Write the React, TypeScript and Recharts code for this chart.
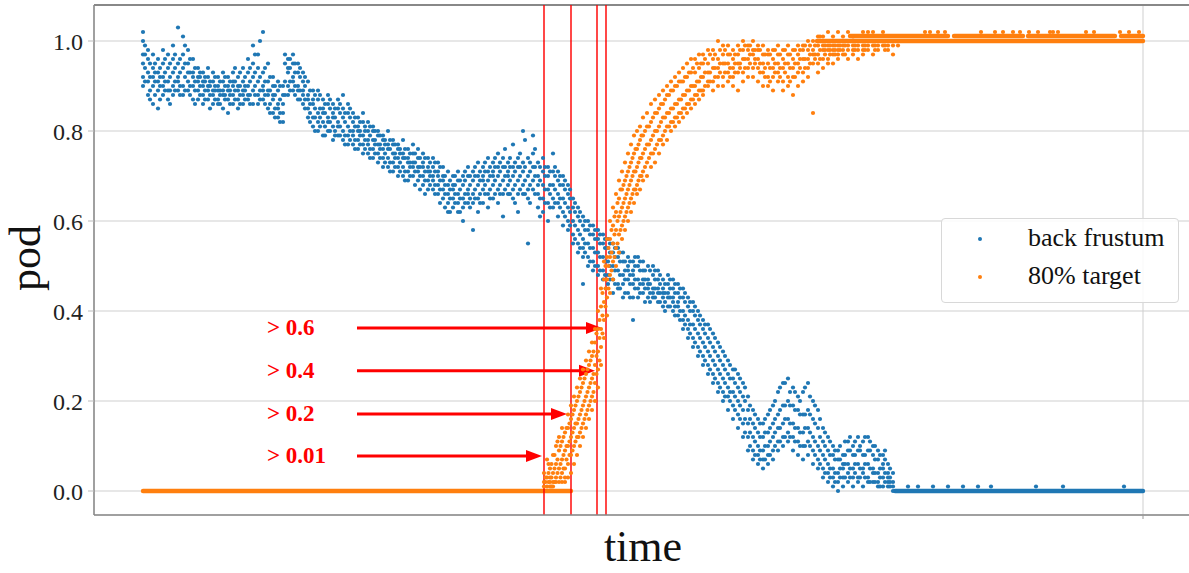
import {
  ComposedChart,
  Scatter,
  XAxis,
  YAxis,
  CartesianGrid,
  ReferenceLine,
} from "recharts";

const SERIF = '"Liberation Serif", "DejaVu Serif", serif';
const BLUE = "#1f77b4";
const ORANGE = "#ff7f0e";

// back frustum samples: [time, pod values read at that time]
const blueColumns: [number, number[]][] = [
  [0, [0.95, 1.0, 0.92, 0.97, 1.02, 0.9]],
  [5, [0.93, 0.88, 0.96, 0.91, 0.98]],
  [10, [0.9, 0.94, 0.86, 0.92, 0.97]],
  [15, [0.89, 0.93, 0.91, 0.85, 0.96]],
  [20, [0.92, 0.88, 0.95, 0.9, 0.98]],
  [25, [0.91, 0.87, 0.94, 0.89, 0.97]],
  [30, [0.93, 0.9, 0.96, 0.88, 0.99]],
  [35, [0.92, 0.95, 0.89, 0.91, 1.03]],
  [40, [0.94, 0.9, 0.97, 0.88, 1.01]],
  [45, [0.91, 0.95, 0.89, 0.93, 0.98]],
  [50, [0.9, 0.93, 0.87, 0.96, 0.92]],
  [55, [0.89, 0.92, 0.94, 0.87, 0.91]],
  [60, [0.88, 0.91, 0.93, 0.86, 0.9]],
  [65, [0.9, 0.87, 0.92, 0.89, 0.94]],
  [70, [0.89, 0.86, 0.91, 0.88, 0.93]],
  [75, [0.9, 0.87, 0.89, 0.92, 0.86]],
  [80, [0.88, 0.91, 0.85, 0.89, 0.93]],
  [85, [0.89, 0.87, 0.92, 0.9, 0.84]],
  [90, [0.9, 0.88, 0.86, 0.91, 0.93]],
  [95, [0.89, 0.87, 0.92, 0.9, 0.85]],
  [100, [0.91, 0.88, 0.94, 0.89, 0.86]],
  [105, [0.9, 0.93, 0.87, 0.96, 0.88]],
  [110, [0.89, 0.92, 0.86, 0.95, 0.99]],
  [115, [0.91, 0.88, 0.94, 0.97, 0.86]],
  [120, [0.9, 0.87, 0.93, 1.02, 0.89]],
  [125, [0.88, 0.91, 0.85, 0.95, 0.89]],
  [130, [0.87, 0.9, 0.84, 0.92, 0.88]],
  [135, [0.86, 0.83, 0.89, 0.85, 0.91]],
  [140, [0.88, 0.84, 0.82, 0.9, 0.86]],
  [145, [0.93, 0.96, 0.9, 0.94, 0.88]],
  [150, [0.92, 0.95, 0.89, 0.97, 0.91]],
  [155, [0.9, 0.93, 0.87, 0.95, 0.89]],
  [160, [0.88, 0.91, 0.86, 0.93, 0.89]],
  [165, [0.85, 0.88, 0.91, 0.83, 0.87]],
  [170, [0.86, 0.83, 0.89, 0.81, 0.87]],
  [175, [0.84, 0.87, 0.82, 0.89, 0.8]],
  [180, [0.85, 0.82, 0.87, 0.79, 0.84]],
  [185, [0.83, 0.86, 0.8, 0.88, 0.82]],
  [190, [0.84, 0.81, 0.86, 0.78, 0.83]],
  [195, [0.82, 0.85, 0.79, 0.87, 0.81]],
  [200, [0.83, 0.8, 0.85, 0.78, 0.88]],
  [205, [0.81, 0.84, 0.79, 0.77, 0.86]],
  [210, [0.82, 0.79, 0.84, 0.77, 0.8]],
  [215, [0.8, 0.83, 0.78, 0.76, 0.81]],
  [220, [0.79, 0.82, 0.77, 0.84, 0.75]],
  [225, [0.8, 0.77, 0.82, 0.75, 0.78]],
  [230, [0.78, 0.81, 0.76, 0.74, 0.8]],
  [235, [0.77, 0.8, 0.75, 0.79, 0.73]],
  [240, [0.76, 0.79, 0.74, 0.78, 0.72]],
  [245, [0.77, 0.74, 0.8, 0.72, 0.76]],
  [250, [0.75, 0.78, 0.73, 0.71, 0.77]],
  [255, [0.74, 0.77, 0.72, 0.76, 0.7]],
  [260, [0.75, 0.72, 0.78, 0.7, 0.74]],
  [265, [0.73, 0.76, 0.71, 0.74, 0.69]],
  [270, [0.72, 0.75, 0.7, 0.77, 0.73]],
  [275, [0.74, 0.71, 0.76, 0.69, 0.72]],
  [280, [0.73, 0.7, 0.75, 0.68, 0.72]],
  [285, [0.71, 0.74, 0.69, 0.72, 0.67]],
  [290, [0.72, 0.69, 0.74, 0.67, 0.7]],
  [295, [0.7, 0.73, 0.68, 0.66, 0.71]],
  [300, [0.69, 0.72, 0.67, 0.65, 0.7]],
  [305, [0.68, 0.71, 0.66, 0.64, 0.62]],
  [310, [0.67, 0.7, 0.65, 0.63, 0.68]],
  [315, [0.66, 0.69, 0.64, 0.71, 0.62]],
  [320, [0.68, 0.65, 0.7, 0.63, 0.6]],
  [325, [0.67, 0.7, 0.64, 0.72, 0.66]],
  [330, [0.69, 0.66, 0.71, 0.64, 0.58]],
  [335, [0.68, 0.65, 0.7, 0.73, 0.62]],
  [340, [0.67, 0.7, 0.64, 0.72, 0.69]],
  [345, [0.69, 0.66, 0.71, 0.74, 0.63]],
  [350, [0.68, 0.71, 0.65, 0.73, 0.7]],
  [355, [0.7, 0.67, 0.72, 0.64, 0.75]],
  [360, [0.69, 0.72, 0.66, 0.74, 0.61]],
  [365, [0.71, 0.68, 0.73, 0.66, 0.7]],
  [370, [0.7, 0.67, 0.72, 0.65, 0.77]],
  [375, [0.69, 0.72, 0.66, 0.74, 0.62]],
  [380, [0.71, 0.68, 0.73, 0.8, 0.66]],
  [385, [0.7, 0.67, 0.74, 0.65, 0.55]],
  [390, [0.72, 0.69, 0.75, 0.67, 0.79]],
  [395, [0.7, 0.66, 0.73, 0.63, 0.68]],
  [400, [0.68, 0.71, 0.65, 0.74, 0.62]],
  [405, [0.67, 0.7, 0.64, 0.72, 0.6]],
  [410, [0.68, 0.65, 0.71, 0.63, 0.75]],
  [415, [0.66, 0.69, 0.64, 0.71, 0.61]],
  [420, [0.65, 0.68, 0.62, 0.7, 0.59]],
  [425, [0.63, 0.66, 0.6, 0.68, 0.58]],
  [430, [0.6, 0.63, 0.57, 0.65, 0.55]],
  [435, [0.58, 0.61, 0.55, 0.63, 0.53]],
  [440, [0.56, 0.59, 0.54, 0.61, 0.52, 0.46]],
  [445, [0.55, 0.58, 0.52, 0.6, 0.5]],
  [450, [0.54, 0.57, 0.51, 0.59, 0.49]],
  [455, [0.53, 0.56, 0.5, 0.58, 0.48]],
  [460, [0.52, 0.55, 0.49, 0.57, 0.47]],
  [465, [0.51, 0.54, 0.48, 0.56, 0.46]],
  [470, [0.5, 0.53, 0.47, 0.55, 0.44]],
  [475, [0.49, 0.52, 0.46, 0.54, 0.45]],
  [480, [0.48, 0.51, 0.46, 0.53, 0.43]],
  [485, [0.49, 0.47, 0.52, 0.44, 0.5]],
  [490, [0.48, 0.46, 0.51, 0.43, 0.49, 0.38]],
  [495, [0.47, 0.5, 0.45, 0.52, 0.43]],
  [500, [0.46, 0.49, 0.44, 0.51, 0.47]],
  [505, [0.47, 0.45, 0.5, 0.43, 0.46]],
  [510, [0.45, 0.48, 0.43, 0.5, 0.44]],
  [515, [0.44, 0.47, 0.42, 0.49, 0.45]],
  [520, [0.45, 0.43, 0.47, 0.41, 0.44]],
  [525, [0.43, 0.46, 0.41, 0.48, 0.44]],
  [530, [0.42, 0.45, 0.4, 0.47, 0.43]],
  [535, [0.41, 0.44, 0.39, 0.46, 0.42]],
  [540, [0.4, 0.43, 0.38, 0.45, 0.36]],
  [545, [0.38, 0.41, 0.36, 0.43, 0.34]],
  [550, [0.37, 0.4, 0.34, 0.42, 0.32]],
  [555, [0.35, 0.38, 0.32, 0.4, 0.3]],
  [560, [0.33, 0.36, 0.3, 0.38, 0.28]],
  [565, [0.31, 0.34, 0.28, 0.37, 0.26]],
  [570, [0.29, 0.32, 0.26, 0.35, 0.24]],
  [575, [0.27, 0.3, 0.24, 0.33, 0.22]],
  [580, [0.25, 0.28, 0.22, 0.31, 0.2]],
  [585, [0.23, 0.26, 0.21, 0.29, 0.18]],
  [590, [0.22, 0.25, 0.19, 0.27, 0.16]],
  [595, [0.2, 0.23, 0.17, 0.26, 0.14]],
  [600, [0.18, 0.21, 0.15, 0.24, 0.12]],
  [605, [0.15, 0.18, 0.12, 0.21, 0.09]],
  [610, [0.12, 0.15, 0.09, 0.18, 0.07]],
  [615, [0.1, 0.13, 0.08, 0.16, 0.06]],
  [620, [0.09, 0.12, 0.07, 0.15, 0.05]],
  [625, [0.1, 0.13, 0.08, 0.17, 0.06]],
  [630, [0.12, 0.15, 0.09, 0.19, 0.07]],
  [635, [0.14, 0.17, 0.11, 0.22, 0.09]],
  [640, [0.15, 0.19, 0.12, 0.24, 0.1]],
  [645, [0.16, 0.2, 0.13, 0.25, 0.11]],
  [650, [0.15, 0.19, 0.12, 0.23, 0.09]],
  [655, [0.14, 0.18, 0.11, 0.21, 0.08]],
  [660, [0.13, 0.17, 0.1, 0.22, 0.07]],
  [665, [0.14, 0.18, 0.11, 0.24, 0.08]],
  [670, [0.12, 0.16, 0.09, 0.2, 0.06]],
  [675, [0.1, 0.14, 0.07, 0.18, 0.05]],
  [680, [0.08, 0.11, 0.05, 0.14, 0.03]],
  [685, [0.06, 0.09, 0.04, 0.12, 0.02]],
  [690, [0.05, 0.08, 0.03, 0.1, 0.01]],
  [695, [0.04, 0.07, 0.02, 0.09, 0.0]],
  [700, [0.05, 0.08, 0.03, 0.06, 0.01]],
  [705, [0.06, 0.09, 0.04, 0.11, 0.02]],
  [710, [0.05, 0.08, 0.03, 0.1, 0.01]],
  [715, [0.06, 0.09, 0.03, 0.12, 0.02]],
  [720, [0.05, 0.08, 0.04, 0.11, 0.01]],
  [725, [0.06, 0.09, 0.03, 0.12, 0.02]],
  [730, [0.05, 0.08, 0.02, 0.1, 0.04]],
  [735, [0.04, 0.07, 0.02, 0.09, 0.01]],
  [740, [0.05, 0.08, 0.03, 0.06, 0.01]],
  [745, [0.03, 0.06, 0.01, 0.04, 0.02]],
  [750, [0.02, 0.04, 0.01, 0.0]],
  [765, [0.01]],
  [775, [0.01]],
  [790, [0.01]],
  [805, [0.01]],
  [820, [0.01]],
  [835, [0.01]],
  [848, [0.01]],
  [893, [0.01]],
  [920, [0.01]],
  [981, [0.01]],
];

// back frustum samples taken between the columns above
const blueColumnsMid: [number, number[]][] = [
  [2, [0.94, 0.97, 0.91, 0.99]],
  [7, [0.92, 0.95, 0.89, 0.87]],
  [12, [0.93, 0.88, 0.91, 0.95]],
  [17, [0.9, 0.94, 0.87, 0.92]],
  [22, [0.91, 0.96, 0.89, 0.93]],
  [27, [0.92, 0.89, 0.95, 0.86]],
  [32, [0.91, 0.94, 0.97, 0.89]],
  [37, [0.93, 0.9, 0.96, 0.88]],
  [42, [0.92, 0.95, 0.89, 0.99]],
  [47, [0.9, 0.93, 0.88, 0.96]],
  [52, [0.91, 0.89, 0.94, 0.86]],
  [57, [0.9, 0.88, 0.93, 0.92]],
  [62, [0.89, 0.92, 0.87, 0.91]],
  [67, [0.91, 0.88, 0.9, 0.85]],
  [72, [0.9, 0.87, 0.92, 0.89]],
  [77, [0.88, 0.91, 0.89, 0.86]],
  [82, [0.9, 0.87, 0.92, 0.88]],
  [87, [0.88, 0.91, 0.89, 0.86]],
  [92, [0.89, 0.91, 0.87, 0.94]],
  [97, [0.9, 0.88, 0.93, 0.86]],
  [102, [0.89, 0.92, 0.87, 0.9]],
  [107, [0.91, 0.88, 0.94, 0.86]],
  [112, [0.9, 0.93, 0.88, 0.97]],
  [117, [0.89, 0.92, 0.87, 1.0]],
  [122, [0.91, 0.88, 0.94, 0.86]],
  [127, [0.89, 0.86, 0.92, 0.84]],
  [132, [0.88, 0.85, 0.9, 0.83]],
  [137, [0.87, 0.84, 0.9, 0.82]],
  [142, [0.91, 0.95, 0.88, 0.97]],
  [147, [0.94, 0.91, 0.96, 0.89]],
  [152, [0.93, 0.9, 0.95, 0.88]],
  [157, [0.89, 0.92, 0.87, 0.94]],
  [162, [0.87, 0.9, 0.85, 0.92]],
  [167, [0.86, 0.89, 0.84, 0.82]],
  [172, [0.85, 0.88, 0.83, 0.8]],
  [177, [0.85, 0.83, 0.88, 0.81]],
  [182, [0.84, 0.86, 0.81, 0.79]],
  [187, [0.82, 0.85, 0.8, 0.87]],
  [192, [0.83, 0.8, 0.85, 0.79]],
  [197, [0.81, 0.84, 0.79, 0.86]],
  [202, [0.82, 0.79, 0.84, 0.77]],
  [207, [0.8, 0.83, 0.78, 0.85]],
  [212, [0.81, 0.78, 0.83, 0.76]],
  [217, [0.79, 0.82, 0.77, 0.8]],
  [222, [0.78, 0.81, 0.76, 0.8]],
  [227, [0.79, 0.76, 0.81, 0.74]],
  [232, [0.77, 0.8, 0.75, 0.78]],
  [237, [0.76, 0.79, 0.74, 0.77]],
  [242, [0.75, 0.78, 0.73, 0.77]],
  [247, [0.76, 0.73, 0.78, 0.71]],
  [252, [0.74, 0.77, 0.72, 0.75]],
  [257, [0.73, 0.76, 0.71, 0.75]],
  [262, [0.74, 0.71, 0.76, 0.69]],
  [267, [0.72, 0.75, 0.7, 0.73]],
  [272, [0.73, 0.71, 0.75, 0.68]],
  [277, [0.72, 0.7, 0.74, 0.67]],
  [282, [0.71, 0.74, 0.69, 0.66]],
  [287, [0.7, 0.73, 0.68, 0.71]],
  [292, [0.71, 0.68, 0.73, 0.66]],
  [297, [0.69, 0.72, 0.67, 0.64]],
  [302, [0.68, 0.7, 0.66, 0.63]],
  [307, [0.67, 0.69, 0.65, 0.62]],
  [312, [0.66, 0.68, 0.64, 0.7]],
  [317, [0.67, 0.65, 0.69, 0.62]],
  [322, [0.66, 0.69, 0.64, 0.71]],
  [327, [0.68, 0.65, 0.7, 0.63]],
  [332, [0.67, 0.7, 0.65, 0.72]],
  [337, [0.69, 0.66, 0.71, 0.64]],
  [342, [0.68, 0.71, 0.66, 0.73]],
  [347, [0.7, 0.67, 0.72, 0.65]],
  [352, [0.69, 0.72, 0.66, 0.74]],
  [357, [0.71, 0.68, 0.73, 0.66]],
  [362, [0.7, 0.67, 0.72, 0.76]],
  [367, [0.69, 0.72, 0.66, 0.74]],
  [372, [0.71, 0.68, 0.73, 0.64]],
  [377, [0.7, 0.67, 0.72, 0.75]],
  [382, [0.69, 0.72, 0.66, 0.78]],
  [387, [0.71, 0.68, 0.73, 0.64]],
  [392, [0.7, 0.66, 0.72, 0.76]],
  [397, [0.69, 0.72, 0.65, 0.61]],
  [402, [0.67, 0.7, 0.64, 0.72]],
  [407, [0.68, 0.66, 0.71, 0.63]],
  [412, [0.67, 0.7, 0.64, 0.72]],
  [417, [0.65, 0.68, 0.63, 0.7]],
  [422, [0.64, 0.67, 0.61, 0.69]],
  [427, [0.62, 0.65, 0.59, 0.67]],
  [432, [0.59, 0.62, 0.56, 0.64]],
  [437, [0.57, 0.6, 0.54, 0.62]],
  [442, [0.55, 0.58, 0.53, 0.6]],
  [447, [0.54, 0.57, 0.51, 0.59]],
  [452, [0.53, 0.56, 0.5, 0.58]],
  [457, [0.52, 0.55, 0.49, 0.57]],
  [462, [0.51, 0.54, 0.48, 0.56]],
  [467, [0.5, 0.53, 0.47, 0.55]],
  [472, [0.49, 0.52, 0.46, 0.54]],
  [477, [0.48, 0.51, 0.45, 0.53]],
  [482, [0.49, 0.47, 0.51, 0.44]],
  [487, [0.48, 0.46, 0.51, 0.43]],
  [492, [0.47, 0.5, 0.45, 0.52]],
  [497, [0.46, 0.49, 0.44, 0.51]],
  [502, [0.47, 0.45, 0.49, 0.42]],
  [507, [0.46, 0.44, 0.49, 0.42]],
  [512, [0.45, 0.47, 0.43, 0.49]],
  [517, [0.44, 0.46, 0.42, 0.48]],
  [522, [0.44, 0.42, 0.46, 0.4]],
  [527, [0.43, 0.45, 0.41, 0.47]],
  [532, [0.41, 0.44, 0.39, 0.46]],
  [537, [0.4, 0.43, 0.38, 0.45]],
  [542, [0.39, 0.42, 0.37, 0.44]],
  [547, [0.37, 0.4, 0.35, 0.42]],
  [552, [0.36, 0.39, 0.33, 0.41]],
  [557, [0.34, 0.37, 0.31, 0.39]],
  [562, [0.32, 0.35, 0.29, 0.37]],
  [567, [0.3, 0.33, 0.27, 0.36]],
  [572, [0.28, 0.31, 0.25, 0.34]],
  [577, [0.26, 0.29, 0.23, 0.32]],
  [582, [0.24, 0.27, 0.21, 0.3]],
  [587, [0.22, 0.25, 0.2, 0.28]],
  [592, [0.21, 0.24, 0.18, 0.27]],
  [597, [0.19, 0.22, 0.16, 0.25]],
  [602, [0.16, 0.2, 0.13, 0.23]],
  [607, [0.13, 0.16, 0.1, 0.19]],
  [612, [0.11, 0.14, 0.08, 0.17]],
  [617, [0.09, 0.12, 0.07, 0.15]],
  [622, [0.1, 0.13, 0.07, 0.16]],
  [627, [0.11, 0.14, 0.08, 0.18]],
  [632, [0.13, 0.16, 0.1, 0.2]],
  [637, [0.14, 0.18, 0.11, 0.23]],
  [642, [0.16, 0.19, 0.12, 0.24]],
  [647, [0.15, 0.19, 0.12, 0.22]],
  [652, [0.14, 0.18, 0.11, 0.22]],
  [657, [0.13, 0.17, 0.1, 0.2]],
  [662, [0.14, 0.17, 0.1, 0.23]],
  [667, [0.13, 0.17, 0.1, 0.21]],
  [672, [0.11, 0.15, 0.08, 0.19]],
  [677, [0.09, 0.12, 0.06, 0.16]],
  [682, [0.07, 0.1, 0.04, 0.13]],
  [687, [0.05, 0.08, 0.03, 0.11]],
  [692, [0.04, 0.07, 0.02, 0.09]],
  [697, [0.05, 0.07, 0.03, 0.1]],
  [702, [0.06, 0.08, 0.03, 0.11]],
  [707, [0.05, 0.09, 0.03, 0.12]],
  [712, [0.06, 0.08, 0.04, 0.11]],
  [717, [0.05, 0.09, 0.03, 0.1]],
  [722, [0.06, 0.08, 0.03, 0.12]],
  [727, [0.05, 0.09, 0.02, 0.11]],
  [732, [0.04, 0.07, 0.02, 0.1]],
  [737, [0.05, 0.08, 0.03, 0.01]],
  [742, [0.04, 0.07, 0.02, 0.09]],
  [747, [0.03, 0.05, 0.01, 0.02]],
];

// 80% target samples
const orangeColumns: [number, number[]][] = [
  [401, [0.02, 0.04, 0.01]],
  [404, [0.03, 0.01, 0.07]],
  [407, [0.02, 0.05, 0.03, 0.01]],
  [410, [0.04, 0.02, 0.08, 0.01]],
  [413, [0.06, 0.03, 0.1, 0.02]],
  [416, [0.05, 0.09, 0.02, 0.12]],
  [419, [0.07, 0.04, 0.11, 0.02, 0.14]],
  [422, [0.09, 0.05, 0.13, 0.02, 0.03]],
  [425, [0.1, 0.06, 0.14, 0.03, 0.17]],
  [428, [0.12, 0.08, 0.16, 0.04, 0.19]],
  [431, [0.14, 0.1, 0.18, 0.06, 0.21]],
  [434, [0.15, 0.12, 0.2, 0.08, 0.23]],
  [437, [0.17, 0.13, 0.22, 0.1, 0.25]],
  [440, [0.19, 0.15, 0.24, 0.12, 0.27]],
  [443, [0.21, 0.17, 0.26, 0.14, 0.29]],
  [446, [0.23, 0.19, 0.28, 0.16, 0.31]],
  [449, [0.25, 0.21, 0.3, 0.18, 0.33]],
  [452, [0.28, 0.24, 0.33, 0.2, 0.36]],
  [455, [0.31, 0.27, 0.36, 0.23, 0.4]],
  [458, [0.36, 0.32, 0.41, 0.28, 0.45]],
  [461, [0.42, 0.38, 0.47, 0.34, 0.51]],
  [464, [0.47, 0.43, 0.52, 0.39, 0.56]],
  [467, [0.52, 0.48, 0.56, 0.44, 0.6]],
  [470, [0.55, 0.51, 0.59, 0.47, 0.63]],
  [473, [0.58, 0.54, 0.62, 0.5, 0.66]],
  [476, [0.61, 0.57, 0.65, 0.53, 0.69]],
  [479, [0.63, 0.59, 0.67, 0.56, 0.71]],
  [482, [0.65, 0.61, 0.69, 0.58, 0.73]],
  [485, [0.67, 0.63, 0.71, 0.6, 0.75]],
  [488, [0.69, 0.65, 0.73, 0.62, 0.77]],
  [491, [0.71, 0.67, 0.75, 0.64, 0.79]],
  [494, [0.72, 0.68, 0.76, 0.66, 0.8]],
  [497, [0.74, 0.7, 0.78, 0.67, 0.81]],
  [500, [0.75, 0.71, 0.79, 0.69, 0.83]],
  [504, [0.77, 0.73, 0.81, 0.7, 0.84]],
  [508, [0.78, 0.75, 0.82, 0.72, 0.86]],
  [512, [0.8, 0.76, 0.84, 0.73, 0.87]],
  [516, [0.81, 0.78, 0.85, 0.75, 0.88]],
  [520, [0.83, 0.79, 0.86, 0.77, 0.89]],
  [524, [0.84, 0.81, 0.88, 0.78, 0.9]],
  [528, [0.85, 0.82, 0.89, 0.8, 0.91]],
  [532, [0.86, 0.83, 0.9, 0.81, 0.92]],
  [536, [0.87, 0.84, 0.91, 0.82, 0.93]],
  [540, [0.88, 0.85, 0.91, 0.83, 0.94]],
  [544, [0.89, 0.86, 0.92, 0.84, 0.95]],
  [548, [0.9, 0.87, 0.93, 0.85, 0.96]],
  [552, [0.9, 0.88, 0.93, 0.86, 0.96]],
  [556, [0.91, 0.89, 0.94, 0.87, 0.97]],
  [560, [0.92, 0.89, 0.95, 0.88, 0.97]],
  [565, [0.93, 0.9, 0.95, 0.91, 0.98]],
  [570, [0.94, 0.91, 0.96, 0.89, 0.98]],
  [575, [0.94, 0.92, 0.96, 0.9, 1.0]],
  [580, [0.95, 0.92, 0.97, 0.9, 0.99]],
  [585, [0.95, 0.93, 0.97, 0.91, 0.99]],
  [590, [0.94, 0.92, 0.96, 0.9, 0.98]],
  [595, [0.95, 0.93, 0.97, 0.89, 0.99]],
  [600, [0.96, 0.93, 0.98, 0.91, 1.0]],
  [605, [0.96, 0.94, 0.98, 0.92, 0.99]],
  [610, [0.97, 0.94, 0.98, 0.92, 1.0]],
  [615, [0.96, 0.94, 0.98, 0.91, 0.99]],
  [620, [0.95, 0.93, 0.97, 0.9, 0.99]],
  [625, [0.95, 0.92, 0.97, 0.9, 0.98]],
  [630, [0.94, 0.92, 0.96, 0.89, 0.98]],
  [635, [0.95, 0.93, 0.97, 0.91, 0.99]],
  [640, [0.94, 0.91, 0.96, 0.89, 0.98]],
  [645, [0.95, 0.92, 0.97, 0.9, 0.99]],
  [650, [0.94, 0.92, 0.96, 0.88, 0.98]],
  [655, [0.95, 0.93, 0.97, 0.9, 0.99]],
  [660, [0.96, 0.93, 0.98, 0.91, 0.99]],
  [665, [0.96, 0.94, 0.98, 0.92, 1.0]],
  [670, [0.97, 0.95, 0.98, 0.84, 1.0]],
  [675, [0.97, 0.95, 0.99, 0.93, 1.01]],
  [680, [0.98, 0.96, 0.99, 0.94, 1.01]],
  [685, [0.98, 0.96, 0.99, 0.95, 1.02]],
  [690, [0.99, 0.97, 0.98, 0.95, 1.01]],
  [695, [0.99, 0.97, 0.98, 0.96, 1.02]],
  [700, [0.99, 0.98, 0.97, 1.01]],
  [705, [0.99, 0.98, 0.96, 1.02]],
  [710, [0.99, 0.98, 0.97, 1.01]],
  [715, [0.99, 0.98, 0.96]],
  [720, [0.99, 0.98, 0.97, 1.02]],
  [725, [0.99, 0.98, 1.02]],
  [730, [0.99, 0.97, 1.02]],
  [735, [0.99, 0.98]],
  [740, [0.99, 1.02]],
  [745, [0.99, 0.98]],
  [750, [0.99, 0.97]],
  [755, [0.99]],
  [782, [1.02]],
  [787, [1.02]],
  [795, [1.02]],
  [802, [1.02]],
  [838, [1.02]],
  [852, [1.02]],
  [860, [1.02]],
  [870, [1.02]],
  [877, [1.02]],
  [886, [1.02]],
  [895, [1.02]],
  [907, [1.02]],
  [910, [1.02]],
  [915, [1.02]],
  [943, [1.02]],
  [951, [1.02]],
  [977, [1.02]],
  [986, [1.02]],
  [996, [1.02]],
];

// 80% target samples taken between the columns above
const orangeColumnsMid: [number, number[]][] = [
  [402.5, [0.03, 0.02]],
  [405.5, [0.04, 0.02, 0.06]],
  [408.5, [0.03, 0.06, 0.01]],
  [411.5, [0.05, 0.08, 0.02]],
  [414.5, [0.07, 0.04, 0.11]],
  [417.5, [0.06, 0.1, 0.03]],
  [420.5, [0.08, 0.12, 0.05]],
  [423.5, [0.1, 0.07, 0.14]],
  [426.5, [0.11, 0.08, 0.15]],
  [429.5, [0.13, 0.09, 0.17]],
  [432.5, [0.15, 0.11, 0.19]],
  [435.5, [0.16, 0.12, 0.21]],
  [438.5, [0.18, 0.14, 0.23]],
  [441.5, [0.2, 0.16, 0.25]],
  [444.5, [0.22, 0.18, 0.27]],
  [447.5, [0.24, 0.2, 0.29]],
  [450.5, [0.26, 0.22, 0.31]],
  [453.5, [0.3, 0.26, 0.35]],
  [456.5, [0.34, 0.29, 0.38]],
  [459.5, [0.39, 0.35, 0.44]],
  [462.5, [0.45, 0.41, 0.5]],
  [465.5, [0.5, 0.45, 0.54]],
  [468.5, [0.53, 0.49, 0.58]],
  [471.5, [0.57, 0.52, 0.61]],
  [474.5, [0.6, 0.55, 0.64]],
  [477.5, [0.62, 0.58, 0.67]],
  [480.5, [0.64, 0.6, 0.68]],
  [483.5, [0.66, 0.62, 0.7]],
  [486.5, [0.68, 0.64, 0.72]],
  [489.5, [0.7, 0.66, 0.74]],
  [492.5, [0.71, 0.67, 0.76]],
  [495.5, [0.73, 0.69, 0.77]],
  [498.5, [0.74, 0.7, 0.79]],
  [502, [0.76, 0.72, 0.8]],
  [506, [0.77, 0.74, 0.81]],
  [510, [0.79, 0.75, 0.83]],
  [514, [0.8, 0.77, 0.84]],
  [518, [0.82, 0.78, 0.86]],
  [522, [0.83, 0.8, 0.87]],
  [526, [0.84, 0.81, 0.88]],
  [530, [0.85, 0.82, 0.89]],
  [534, [0.86, 0.83, 0.9]],
  [538, [0.87, 0.84, 0.91]],
  [542, [0.88, 0.85, 0.92]],
  [546, [0.89, 0.86, 0.93]],
  [550, [0.9, 0.87, 0.94]],
  [554, [0.91, 0.88, 0.95]],
  [558, [0.92, 0.89, 0.95]],
  [562, [0.93, 0.9, 0.96]],
  [567, [0.93, 0.91, 0.97]],
  [572, [0.94, 0.92, 0.97]],
  [577, [0.95, 0.93, 0.98]],
  [582, [0.95, 0.93, 0.98]],
  [587, [0.94, 0.92, 0.97]],
  [592, [0.95, 0.93, 0.97]],
  [597, [0.95, 0.94, 0.98]],
  [602, [0.96, 0.94, 0.99]],
  [607, [0.97, 0.95, 0.99]],
  [612, [0.96, 0.95, 0.98]],
  [617, [0.95, 0.93, 0.98]],
  [622, [0.94, 0.92, 0.97]],
  [627, [0.94, 0.91, 0.97]],
  [632, [0.95, 0.93, 0.98]],
  [637, [0.94, 0.92, 0.97]],
  [642, [0.95, 0.93, 0.98]],
  [647, [0.94, 0.91, 0.97]],
  [652, [0.95, 0.92, 0.98]],
  [657, [0.96, 0.94, 0.98]],
  [662, [0.96, 0.94, 0.99]],
  [667, [0.97, 0.95, 0.99]],
  [672, [0.97, 0.96, 0.99]],
  [677, [0.98, 0.96, 1.01]],
  [682, [0.98, 0.97, 0.99]],
  [687, [0.98, 0.97, 0.99]],
  [692, [0.99, 0.98, 0.97]],
  [697, [0.99, 0.98]],
  [702, [0.99, 0.97]],
  [712, [0.99, 0.98]],
  [722, [0.99, 0.98]],
  [732, [0.99, 0.98]],
  [742, [0.99, 0.98]],
];

// stretches where samples sit on one value back to back: [from, to, pod]
const blueRuns: [number, number, number][] = [[752, 1000, 0]];
const orangeRuns: [number, number, number][] = [
  [0, 428, 0],
  [674, 1000, 1.0],
  [707, 805, 1.011],
  [811, 880, 1.011],
  [885, 972, 1.011],
  [978, 1000, 1.011],
];

// threshold crossings (red verticals) and arrow annotations
const thresholdTimes = [401, 428, 454, 463];
const arrowLabels = ["> 0.6", "> 0.4", "> 0.2", "> 0.01"];
const arrowLevels = [0.362, 0.267, 0.171, 0.078];
const arrowTips = [459, 452, 424, 399];
const ARROW_START = 214;

const yTicks = [0, 0.2, 0.4, 0.6, 0.8, 1.0];
const xTicks = [1000];
const X_DOMAIN: [number, number] = [-49, 1087];
const Y_DOMAIN: [number, number] = [-0.0533, 1.08];

const toPoints = (cols: [number, number[]][]) =>
  cols.flatMap(([t, vs]) => vs.map((v) => ({ t, v })));

const blueData = toPoints([...blueColumns, ...blueColumnsMid]);
const orangeData = toPoints([...orangeColumns, ...orangeColumnsMid]);

const dot = (color: string) => (p: any) =>
  <circle cx={p.cx} cy={p.cy} r={2.1} fill={color} />;

const runShape = (color: string) => (p: any) =>
  (
    <line
      x1={p.x1}
      y1={p.y1}
      x2={p.x2}
      y2={p.y2}
      stroke={color}
      strokeWidth={4.4}
      strokeLinecap="round"
    />
  );

const arrowShape = (label: string) => (p: any) => {
  const { x1, y1, x2, y2 } = p;
  return (
    <g>
      <text
        x={x1 - 90}
        y={y1 + 7}
        fill="#ff0000"
        fontSize={23}
        fontWeight="bold"
        fontFamily={SERIF}
      >
        {label}
      </text>
      <line x1={x1} y1={y1} x2={x2 - 12} y2={y2} stroke="#ff0000" strokeWidth={3} />
      <polygon
        points={`${x2},${y2} ${x2 - 16},${y2 - 6} ${x2 - 16},${y2 + 6}`}
        fill="#ff0000"
      />
    </g>
  );
};

export default function App() {
  return (
    <div
      style={{
        position: "absolute",
        left: 0,
        top: 0,
        width: 1189,
        height: 573,
        overflow: "hidden",
        background: "#fff",
      }}
    >
      <ComposedChart
        width={1240}
        height={573}
        margin={{ top: 5, right: 10, bottom: 0, left: 0 }}
      >
        <CartesianGrid stroke="#cfcfcf" strokeWidth={1} />
        <XAxis
          type="number"
          dataKey="t"
          domain={X_DOMAIN}
          ticks={xTicks}
          allowDataOverflow
          height={58}
          tickFormatter={() => ""}
          tickSize={4}
          tickLine={{ stroke: "#999" }}
          axisLine={{ stroke: "#888", strokeWidth: 1.5 }}
          label={{
            content: () => (
              <text
                x={643}
                y={561}
                textAnchor="middle"
                fontSize={44}
                fontFamily={SERIF}
                fill="#111"
              >
                time
              </text>
            ),
          }}
        />
        <YAxis
          type="number"
          dataKey="v"
          domain={Y_DOMAIN}
          ticks={yTicks}
          allowDataOverflow
          width={94}
          tickFormatter={(v: number) => v.toFixed(1)}
          tickSize={6}
          tickMargin={5}
          tickLine={{ stroke: "#bbb" }}
          axisLine={{ stroke: "#888", strokeWidth: 1.5 }}
          tick={{ fontSize: 24, fill: "#222", fontFamily: SERIF }}
          label={{
            content: () => (
              <text
                x={40}
                y={258}
                transform="rotate(-90 40 258)"
                textAnchor="middle"
                fontSize={44}
                fontFamily={SERIF}
                fill="#111"
              >
                pod
              </text>
            ),
          }}
        />
        <ReferenceLine y={Y_DOMAIN[1]} stroke="#888" strokeWidth={2} ifOverflow="visible" />

        {blueRuns.map(([a, b, v], i) => (
          <ReferenceLine
            key={`br-${i}`}
            segment={[{ x: a, y: v }, { x: b, y: v }]}
            shape={runShape(BLUE)}
          />
        ))}
        <Scatter
          name="back frustum"
          data={blueData}
          dataKey="v"
          fill={BLUE}
          shape={dot(BLUE)}
          isAnimationActive={false}
        />
        {orangeRuns.map(([a, b, v], i) => (
          <ReferenceLine
            key={`or-${i}`}
            segment={[{ x: a, y: v }, { x: b, y: v }]}
            shape={runShape(ORANGE)}
          />
        ))}
        <Scatter
          name="80% target"
          data={orangeData}
          dataKey="v"
          fill={ORANGE}
          shape={dot(ORANGE)}
          isAnimationActive={false}
        />

        {thresholdTimes.map((t) => (
          <ReferenceLine
            key={`th-${t}`}
            x={t}
            stroke="#ff0000"
            strokeOpacity={0.8}
            strokeWidth={1.8}
          />
        ))}
        {arrowLabels.map((label, i) => (
          <ReferenceLine
            key={`ar-${i}`}
            segment={[
              { x: ARROW_START, y: arrowLevels[i] },
              { x: arrowTips[i], y: arrowLevels[i] },
            ]}
            shape={arrowShape(label)}
          />
        ))}
      </ComposedChart>

      {/* legend box */}
      <div
        style={{
          position: "absolute",
          left: 941,
          top: 218,
          width: 236,
          height: 83,
          border: "1px solid #d8d8d8",
          borderRadius: 4,
          background: "rgba(255,255,255,0.85)",
          fontFamily: SERIF,
          fontSize: 26,
          color: "#111",
        }}
      >
        {[
          { name: "back frustum", color: BLUE, top: 20 },
          { name: "80% target", color: ORANGE, top: 58 },
        ].map((item) => (
          <div key={item.name}>
            <span
              style={{
                position: "absolute",
                left: 36,
                top: item.top - 2,
                width: 4,
                height: 4,
                borderRadius: 2,
                background: item.color,
              }}
            />
            <span
              style={{
                position: "absolute",
                left: 86,
                top: item.top - 16,
                lineHeight: "30px",
                whiteSpace: "nowrap",
              }}
            >
              {item.name}
            </span>
          </div>
        ))}
      </div>
    </div>
  );
}
